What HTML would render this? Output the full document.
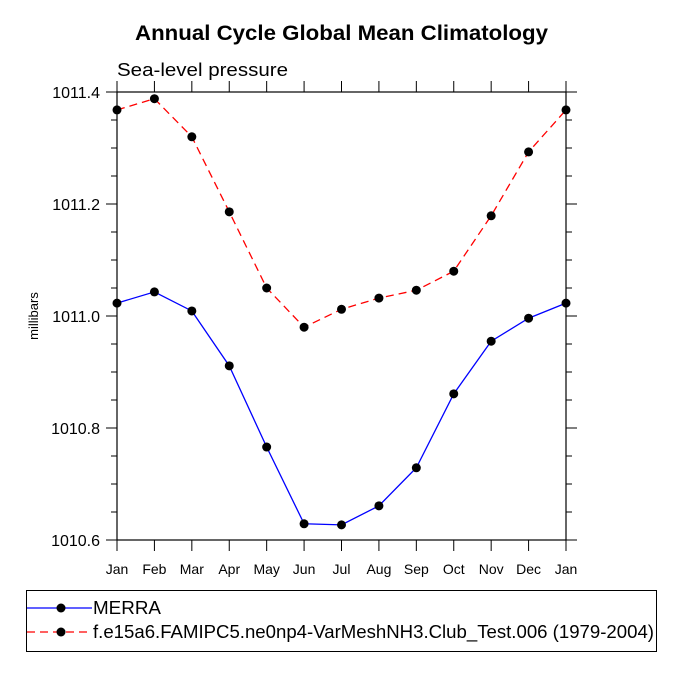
<!DOCTYPE html>
<html><head><meta charset="utf-8"><style>
html,body{margin:0;padding:0;background:#fff;}
svg{display:block;font-family:"Liberation Sans",Arial,sans-serif;}
</style></head><body>
<svg id="chart" width="675" height="675">
<text x="135" y="40" font-size="21" font-weight="bold" textLength="413" lengthAdjust="spacingAndGlyphs">Annual Cycle Global Mean Climatology</text>
<text x="117" y="76" font-size="18" textLength="171" lengthAdjust="spacingAndGlyphs">Sea-level pressure</text>
<text transform="translate(38,316) rotate(-90)" text-anchor="middle" font-size="13">millibars</text>
<g id="axes"></g>
<g id="series"></g>
<rect x="26.5" y="590.5" width="630" height="61" fill="none" stroke="#000" stroke-width="1"/>
<g>
<line x1="27" y1="608" x2="92" y2="608" stroke="#0000ff" stroke-width="1.3"/>
<circle cx="61" cy="608" r="4.5" fill="#000"/>
<text x="93" y="614" font-size="18" textLength="68" lengthAdjust="spacingAndGlyphs">MERRA</text>
</g>
<g>
<line x1="27" y1="632" x2="92" y2="632" stroke="#ff0000" stroke-width="1.3" stroke-dasharray="8,5"/>
<circle cx="61" cy="632" r="4.5" fill="#000"/>
<text x="93" y="638" font-size="18" textLength="561" lengthAdjust="spacingAndGlyphs">f.e15a6.FAMIPC5.ne0np4-VarMeshNH3.Club_Test.006 (1979-2004)</text>
</g>
</svg>
<script>
const months = ["Jan","Feb","Mar","Apr","May","Jun","Jul","Aug","Sep","Oct","Nov","Dec","Jan"];
const merraValues = [1011.023,1011.043,1011.009,1010.911,1010.766,1010.629,1010.627,1010.661,1010.729,1010.861,1010.955,1010.996,1011.023];
const modelValues = [1011.368,1011.388,1011.320,1011.186,1011.050,1010.980,1011.012,1011.032,1011.046,1011.080,1011.179,1011.293,1011.368];
const yTicks = [1010.6,1010.8,1011.0,1011.2,1011.4];
const yTickLabels = ["1010.6","1010.8","1011.0","1011.2","1011.4"];

const L=117,R=566,T=92,B=540,yMin=1010.6,yMax=1011.4;
const ns="http://www.w3.org/2000/svg";
function xs(i){return L+(R-L)*i/(months.length-1);}
function ys(v){return B-(v-yMin)/(yMax-yMin)*(B-T);}
function mk(tag,attrs,parent){const e=document.createElementNS(ns,tag);for(const k in attrs)e.setAttribute(k,attrs[k]);parent.appendChild(e);return e;}
const ax=document.getElementById('axes');
const frame=mk('rect',{x:L,y:T,width:R-L,height:B-T,fill:'none',stroke:'#000','stroke-width':1.2},ax);


months.forEach((m,i)=>{
  const x=xs(i);
  mk('line',{x1:x,y1:B,x2:x,y2:B+11,stroke:'#000','stroke-width':1},ax);
  mk('line',{x1:x,y1:T,x2:x,y2:T-11,stroke:'#000','stroke-width':1},ax);
  const t=mk('text',{x:x,y:B+34,'text-anchor':'middle','font-size':14},ax);
  t.textContent=m;
  
  
});
for(let v=yMin;v<=yMax+1e-9;v+=0.05){
  const y=ys(v);
  const major=Math.abs(Math.round(v*5)-v*5)<1e-6;
  const len=major?11:6;
  mk('line',{x1:L,y1:y,x2:L-len,y2:y,stroke:'#000','stroke-width':1},ax);
  mk('line',{x1:R,y1:y,x2:R+len,y2:y,stroke:'#000','stroke-width':1},ax);
}
yTicks.forEach((v,i)=>{
  const t=mk('text',{x:L-17,y:ys(v)+6,'text-anchor':'end','font-size':16},ax);
  t.textContent=yTickLabels[i];
  
  
});
const sg=document.getElementById('series');
function drawSeries(vals,color,dash,name){
  const g=mk('g',{},sg);
  
  
  const pts=vals.map((v,i)=>xs(i)+','+ys(v)).join(' ');
  const attrs={points:pts,fill:'none',stroke:color,'stroke-width':1.3};
  if(dash)attrs['stroke-dasharray']=dash;
  mk('polyline',attrs,g);
  vals.forEach((v,i)=>{
    const c=mk('circle',{cx:xs(i),cy:ys(v),r:4.5,fill:'#000'},g);
    
    
  });
}
drawSeries(merraValues,'#0000ff',null,'merra-series');
drawSeries(modelValues,'#ff0000','8,5','model-series');
</script>
</body></html>
